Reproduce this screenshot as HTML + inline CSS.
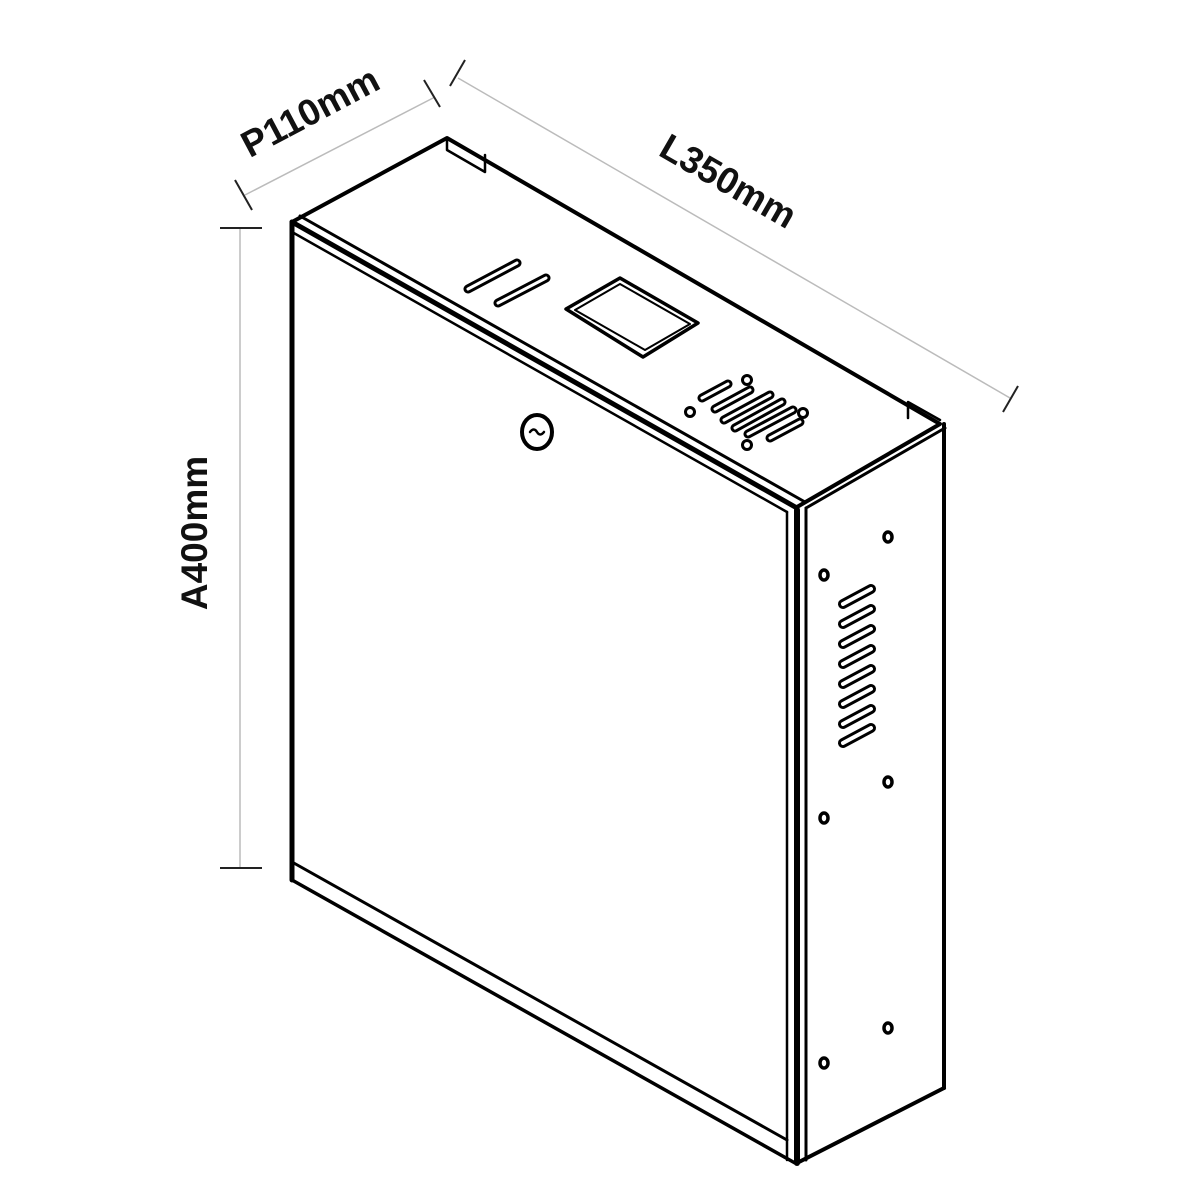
<!DOCTYPE html>
<html><head><style>body{margin:0;background:#fff}svg{display:block}</style></head>
<body>
<svg width="1200" height="1200" viewBox="0 0 1200 1200" xmlns="http://www.w3.org/2000/svg">
<g stroke="#bbb" stroke-width="1.5" fill="none">
<line x1="240" y1="228" x2="240" y2="868"/>
<line x1="245" y1="195" x2="435" y2="97"/>
<line x1="458" y1="78" x2="1010" y2="398"/>
</g>
<g stroke="#222" stroke-width="2" fill="none">
<line x1="220" y1="228" x2="262" y2="228"/>
<line x1="220" y1="868" x2="262" y2="868"/>
<line x1="235" y1="180" x2="252" y2="210"/>
<line x1="424" y1="80" x2="440" y2="107"/>
<line x1="450" y1="86" x2="465" y2="60"/>
<line x1="1003" y1="412" x2="1018" y2="386"/>
</g>
<g font-family="Liberation Sans, sans-serif" font-weight="bold" font-size="37" fill="#111" text-anchor="middle">
<text transform="translate(207,533) rotate(-90)">A400mm</text>
<text transform="translate(316,123) rotate(-28)">P110mm</text>
<text transform="translate(722,192) rotate(30)">L350mm</text>
</g>
<g stroke="#000" fill="none" stroke-linejoin="round" stroke-linecap="round">
<!-- top face -->
<polyline points="292,222 447,138 940,424 797,507" stroke-width="4"/>
<polyline points="447,138 447,150 485,172 485,155" stroke-width="2.5"/>
<polyline points="908,418 908,402 940,420" stroke-width="2.5"/>
<!-- front lip -->
<line x1="292" y1="222" x2="797" y2="508" stroke-width="5"/>
<line x1="300" y1="216" x2="805" y2="502" stroke-width="3"/>
<line x1="292" y1="232" x2="787" y2="512" stroke-width="2.5"/>
<!-- front face -->
<line x1="292" y1="222" x2="292" y2="880" stroke-width="5"/>
<line x1="292" y1="862" x2="787" y2="1140" stroke-width="3"/>
<line x1="292" y1="880" x2="795" y2="1163" stroke-width="3.5"/>
<line x1="787" y1="512" x2="787" y2="1160" stroke-width="2.5"/>
<line x1="797" y1="510" x2="797" y2="1163" stroke-width="6"/>
<!-- side face -->
<line x1="806" y1="508" x2="806" y2="1160" stroke-width="3"/>
<line x1="806" y1="508" x2="945" y2="428" stroke-width="3"/>
<line x1="944" y1="424" x2="944" y2="1088" stroke-width="4"/>
<line x1="797" y1="1163" x2="944" y2="1088" stroke-width="4"/>
<!-- top slots -->
<g stroke-width="9">
<line x1="468" y1="289" x2="517" y2="263"/>
<line x1="498" y1="303" x2="546" y2="278"/>
</g>
<g stroke="#fff" stroke-width="3">
<line x1="468" y1="289" x2="517" y2="263"/>
<line x1="498" y1="303" x2="546" y2="278"/>
</g>
<!-- screen frame -->
<polygon points="566,309 620,278 698,323 643,357" stroke-width="3.5"/>
<polygon points="575,310 620,284 690,324 645,350" stroke-width="2"/>
<!-- grill -->
<g stroke-width="9">
<line x1="702" y1="398" x2="728" y2="384"/>
<line x1="715" y1="409" x2="750" y2="390"/>
<line x1="724" y1="420" x2="770" y2="395"/>
<line x1="735" y1="428" x2="782" y2="402"/>
<line x1="748" y1="434" x2="793" y2="410"/>
<line x1="770" y1="438" x2="800" y2="422"/>
</g>
<g stroke="#fff" stroke-width="3">
<line x1="702" y1="398" x2="728" y2="384"/>
<line x1="715" y1="409" x2="750" y2="390"/>
<line x1="724" y1="420" x2="770" y2="395"/>
<line x1="735" y1="428" x2="782" y2="402"/>
<line x1="748" y1="434" x2="793" y2="410"/>
<line x1="770" y1="438" x2="800" y2="422"/>
</g>
<g stroke-width="3">
<circle cx="690" cy="412" r="4.5"/><circle cx="747" cy="380" r="4.5"/>
<circle cx="803" cy="413" r="4.5"/><circle cx="747" cy="445" r="4.5"/>
</g>
<!-- lock -->
<ellipse cx="537" cy="432" rx="15" ry="17" stroke-width="4"/>
<path d="M530,432 q4,-5 7,0 q3,5 7,0" stroke-width="2.5"/>
<!-- side holes -->
<g stroke-width="3.5">
<ellipse cx="888" cy="537" rx="4" ry="5"/><ellipse cx="824" cy="575" rx="4" ry="5"/>
<ellipse cx="888" cy="782" rx="4" ry="5"/><ellipse cx="824" cy="818" rx="4" ry="5"/>
<ellipse cx="888" cy="1028" rx="4" ry="5"/><ellipse cx="824" cy="1063" rx="4" ry="5"/>
</g>
<g stroke-width="10">
<line x1="843" y1="604" x2="871" y2="589"/><line x1="843" y1="624" x2="871" y2="609"/>
<line x1="843" y1="644" x2="871" y2="629"/><line x1="843" y1="664" x2="871" y2="649"/>
<line x1="843" y1="684" x2="871" y2="669"/><line x1="843" y1="704" x2="871" y2="689"/>
<line x1="843" y1="724" x2="871" y2="709"/><line x1="843" y1="743" x2="871" y2="728"/>
</g>
<g stroke="#fff" stroke-width="4">
<line x1="843" y1="604" x2="871" y2="589"/><line x1="843" y1="624" x2="871" y2="609"/>
<line x1="843" y1="644" x2="871" y2="629"/><line x1="843" y1="664" x2="871" y2="649"/>
<line x1="843" y1="684" x2="871" y2="669"/><line x1="843" y1="704" x2="871" y2="689"/>
<line x1="843" y1="724" x2="871" y2="709"/><line x1="843" y1="743" x2="871" y2="728"/>
</g>
</g>
</svg>
</body></html>
